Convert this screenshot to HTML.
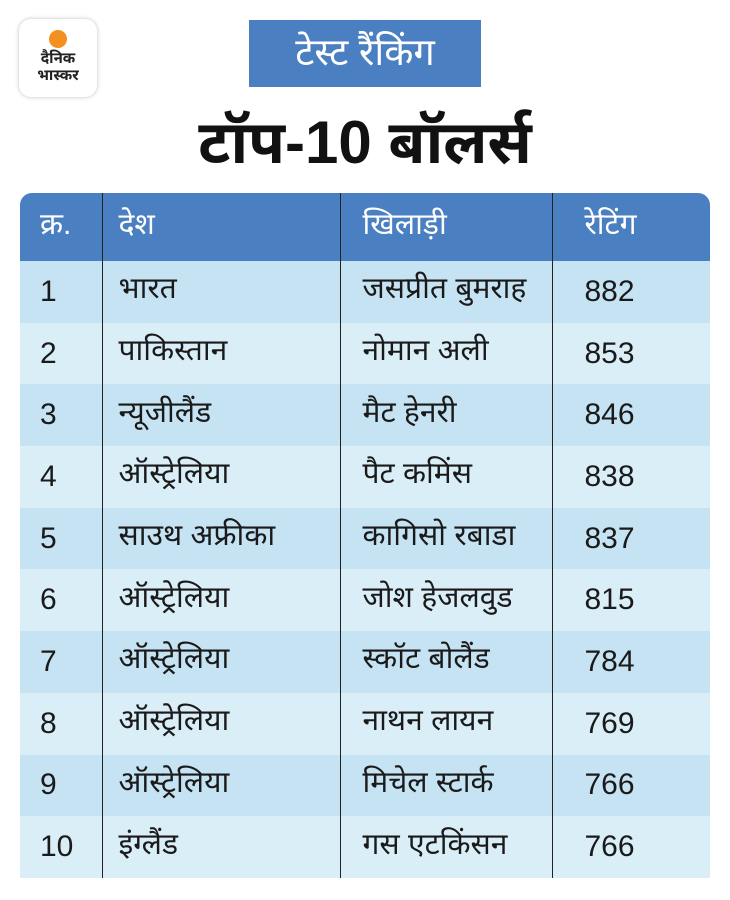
<!DOCTYPE html>
<html><head><meta charset="utf-8"><style>
body{margin:0;width:730px;height:900px;background:#fff;position:relative;overflow:hidden;font-family:"Liberation Sans","Noto Sans Devanagari","Lohit Devanagari",sans-serif;}
.logo{position:absolute;left:19px;top:19px;width:78px;height:78px;border-radius:12px;background:#fff;box-shadow:0 0 4px rgba(0,0,0,.25);text-align:center;}
.logo .dot{width:18px;height:18px;border-radius:50%;background:#f39021;margin:11px auto 2px;}
.logo .t{font-weight:bold;font-size:15px;line-height:17px;color:#222;}
.badge{position:absolute;left:249px;top:20px;width:232px;height:67px;background:#4a7fc1;color:#fff;font-size:38px;text-align:center;line-height:67px;}
.title{position:absolute;left:0;width:730px;top:106px;text-align:center;font-size:60px;font-weight:bold;color:#111;line-height:74px;}
table{position:absolute;left:20px;top:193px;width:690px;border-collapse:collapse;font-size:30px;color:#1a1a1a;}
th{background:#4a7fc1;color:#fff;font-weight:normal;height:68px;text-align:left;padding:0;}
td{height:61.7px;padding:0;}
th+th,td+td{border-left:1.5px solid #222;}
th:first-child{border-top-left-radius:12px;padding-left:20px;}
th:last-child{border-top-right-radius:12px;}
td:first-child{padding-left:20px;}
th:nth-child(2),td:nth-child(2){padding-left:16px;}
th:nth-child(3),td:nth-child(3){padding-left:22px;}
th:nth-child(4),td:nth-child(4){padding-left:32px;}
tr:nth-child(odd) td{background:#c5e3f3;}
tr:nth-child(even) td{background:#daeef8;}
</style></head><body>
<div class="logo"><div class="dot"></div><div class="t">दैनिक<br>भास्कर</div></div>
<div class="badge">टेस्ट रैंकिंग</div>
<div class="title">टॉप-10 बॉलर्स</div>
<table>
<colgroup><col style="width:82px"><col style="width:238px"><col style="width:212px"><col style="width:158px"></colgroup>
<thead><tr><th>क्र.</th><th>देश</th><th>खिलाड़ी</th><th>रेटिंग</th></tr></thead>
<tbody>
<tr><td>1</td><td>भारत</td><td>जसप्रीत बुमराह</td><td>882</td></tr>
<tr><td>2</td><td>पाकिस्तान</td><td>नोमान अली</td><td>853</td></tr>
<tr><td>3</td><td>न्यूजीलैंड</td><td>मैट हेनरी</td><td>846</td></tr>
<tr><td>4</td><td>ऑस्ट्रेलिया</td><td>पैट कमिंस</td><td>838</td></tr>
<tr><td>5</td><td>साउथ अफ्रीका</td><td>कागिसो रबाडा</td><td>837</td></tr>
<tr><td>6</td><td>ऑस्ट्रेलिया</td><td>जोश हेजलवुड</td><td>815</td></tr>
<tr><td>7</td><td>ऑस्ट्रेलिया</td><td>स्कॉट बोलैंड</td><td>784</td></tr>
<tr><td>8</td><td>ऑस्ट्रेलिया</td><td>नाथन लायन</td><td>769</td></tr>
<tr><td>9</td><td>ऑस्ट्रेलिया</td><td>मिचेल स्टार्क</td><td>766</td></tr>
<tr><td>10</td><td>इंग्लैंड</td><td>गस एटकिंसन</td><td>766</td></tr>
</tbody></table>
</body></html>
